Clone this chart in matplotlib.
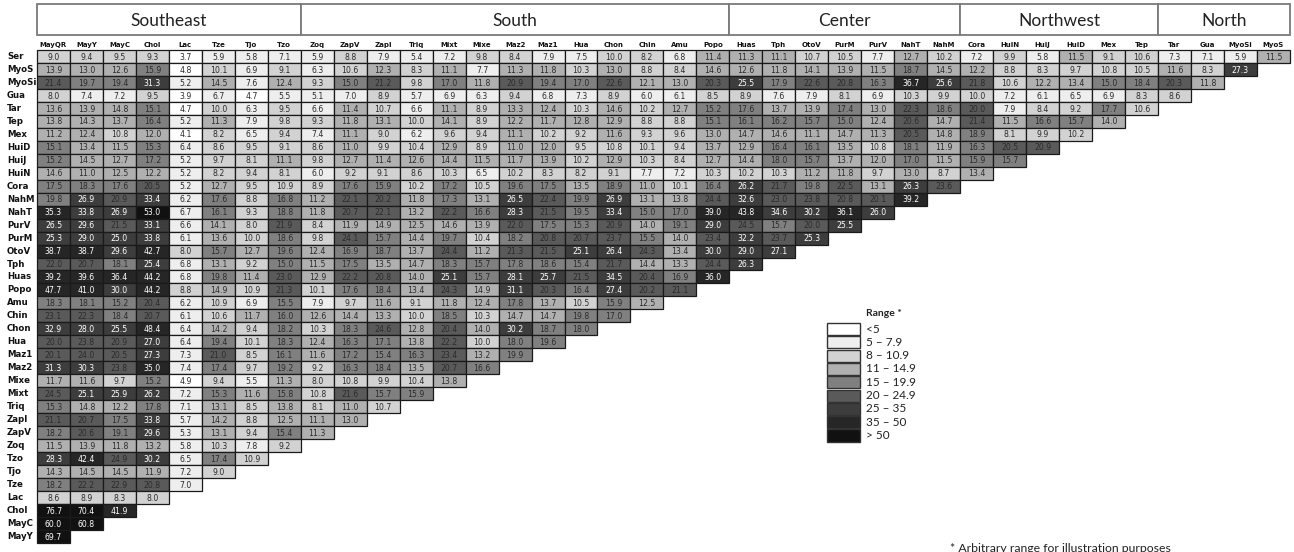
import matplotlib.pyplot as plt
from matplotlib.patches import Rectangle
import numpy as np

col_labels = ["MayQR", "MayY", "MayC", "Chol", "Lac", "Tze", "Tjo", "Tzo", "Zoq", "ZapV",
              "ZapI", "Triq", "Mixt", "Mixe", "Maz2", "Maz1", "Hua", "Chon", "Chin", "Amu",
              "Popo", "Huas", "Tph", "OtoV", "PurM", "PurV", "NahT", "NahM", "Cora", "HuiN",
              "HuiJ", "HuiD", "Mex", "Tep", "Tar", "Gua", "MyoSi", "MyoS"]
row_labels = ["Ser", "MyoS", "MyoSi", "Gua", "Tar", "Tep", "Mex", "HuiD", "HuiJ", "HuiN",
              "Cora", "NahM", "NahT", "PurV", "PurM", "OtoV", "Tph", "Huas", "Popo", "Amu",
              "Chin", "Chon", "Hua", "Maz1", "Maz2", "Mixe", "Mixt", "Triq", "ZapI", "ZapV",
              "Zoq", "Tzo", "Tjo", "Tze", "Lac", "Chol", "MayC", "MayY"]

values = [
    [9.0, 9.4, 9.5, 9.3, 3.7, 5.9, 5.8, 7.1, 5.9, 8.8, 7.9, 5.4, 7.2, 9.8, 8.4, 7.9, 7.5, 10.0, 8.2,
     6.8, 11.4, 11.3, 11.1, 10.7, 10.5, 7.7, 12.7, 10.2, 7.2, 9.9, 5.8, 11.5, 9.1, 10.6, 7.3, 7.1, 5.9, 11.5],
    [13.9, 13.0, 12.6, 15.9, 4.8, 10.1, 6.9, 9.1, 6.3, 10.6, 12.3, 8.3, 11.1, 7.7, 11.3, 11.8, 10.3, 13.0,
     8.8, 8.4, 14.6, 12.6, 11.8, 14.1, 13.9, 11.5, 18.7, 14.5, 12.2, 8.8, 8.3, 9.7, 10.8, 10.5, 11.6, 8.3, 27.3],
    [21.4, 19.7, 19.4, 31.3, 5.2, 14.5, 7.6, 12.4, 9.3, 15.0, 21.2, 9.8, 17.0, 11.8, 20.9, 19.4, 17.0, 22.6,
     12.1, 13.0, 20.3, 25.5, 17.9, 22.6, 20.8, 16.3, 36.7, 25.6, 21.8, 10.6, 12.2, 13.4, 15.0, 18.4, 20.3, 11.8],
    [8.0, 7.4, 7.2, 9.5, 3.9, 6.7, 4.7, 5.5, 5.1, 7.0, 8.9, 5.7, 6.9, 6.3, 9.4, 6.8, 7.3, 8.9, 6.0,
     6.1, 8.5, 8.9, 7.6, 7.9, 8.1, 6.9, 10.3, 9.9, 10.0, 7.2, 6.1, 6.5, 6.9, 8.3, 8.6],
    [13.6, 13.9, 14.8, 15.1, 4.7, 10.0, 6.3, 9.5, 6.6, 11.4, 10.7, 6.6, 11.1, 8.9, 13.3, 12.4, 10.3, 14.6,
     10.2, 12.7, 15.2, 17.6, 13.7, 13.9, 17.4, 13.0, 22.3, 18.6, 20.0, 7.9, 8.4, 9.2, 17.7, 10.6],
    [13.8, 14.3, 13.7, 16.4, 5.2, 11.3, 7.9, 9.8, 9.3, 11.8, 13.1, 10.0, 14.1, 8.9, 12.2, 11.7, 12.8, 12.9,
     8.8, 8.8, 15.1, 16.1, 16.2, 15.7, 15.0, 12.4, 20.6, 14.7, 21.4, 11.5, 16.6, 15.7, 14.0],
    [11.2, 12.4, 10.8, 12.0, 4.1, 8.2, 6.5, 9.4, 7.4, 11.1, 9.0, 6.2, 9.6, 9.4, 11.1, 10.2, 9.2, 11.6,
     9.3, 9.6, 13.0, 14.7, 14.6, 11.1, 14.7, 11.3, 20.5, 14.8, 18.9, 8.1, 9.9, 10.2],
    [15.1, 13.4, 11.5, 15.3, 6.4, 8.6, 9.5, 9.1, 8.6, 11.0, 9.9, 10.4, 12.9, 8.9, 11.0, 12.0, 9.5, 10.8,
     10.1, 9.4, 13.7, 12.9, 16.4, 16.1, 13.5, 10.8, 18.1, 11.9, 16.3, 20.5, 20.9],
    [15.2, 14.5, 12.7, 17.2, 5.2, 9.7, 8.1, 11.1, 9.8, 12.7, 11.4, 12.6, 14.4, 11.5, 11.7, 13.9, 10.2, 12.9,
     10.3, 8.4, 12.7, 14.4, 18.0, 15.7, 13.7, 12.0, 17.0, 11.5, 15.9, 15.7],
    [14.6, 11.0, 12.5, 12.2, 5.2, 8.2, 9.4, 8.1, 6.0, 9.2, 9.1, 8.6, 10.3, 6.5, 10.2, 8.3, 8.2, 9.1,
     7.7, 7.2, 10.3, 10.2, 10.3, 11.2, 11.8, 9.7, 13.0, 8.7, 13.4],
    [17.5, 18.3, 17.6, 20.5, 5.2, 12.7, 9.5, 10.9, 8.9, 17.6, 15.9, 10.2, 17.2, 10.5, 19.6, 17.5, 13.5, 18.9,
     11.0, 10.1, 16.4, 26.2, 21.7, 19.8, 22.5, 13.1, 26.3, 23.6],
    [19.8, 26.9, 20.9, 33.4, 6.2, 17.6, 8.8, 16.8, 11.2, 22.1, 20.2, 11.8, 17.3, 13.1, 26.5, 22.4, 19.9, 26.9,
     13.1, 13.8, 24.4, 32.6, 23.0, 23.8, 20.8, 20.1, 39.2],
    [35.3, 33.8, 26.9, 53.0, 6.7, 16.1, 9.3, 18.8, 11.8, 20.7, 22.1, 13.2, 22.2, 16.6, 28.3, 21.5, 19.5, 33.4,
     15.0, 17.0, 39.0, 43.8, 34.6, 30.2, 36.1, 26.0],
    [26.5, 29.6, 21.5, 33.1, 6.6, 14.1, 8.0, 21.9, 8.4, 11.9, 14.9, 12.5, 14.6, 13.9, 22.0, 17.5, 15.3, 20.9,
     14.0, 19.1, 29.0, 24.5, 15.7, 20.0, 25.5],
    [25.3, 29.0, 25.0, 33.8, 6.1, 13.6, 10.0, 18.6, 9.8, 24.1, 15.7, 14.4, 19.7, 10.4, 18.2, 20.8, 20.7, 23.7,
     15.5, 14.0, 23.4, 32.2, 23.7, 25.3],
    [38.7, 38.7, 29.6, 42.7, 8.0, 15.7, 12.7, 19.6, 12.4, 16.9, 18.7, 13.7, 24.4, 11.2, 21.3, 21.5, 25.1, 26.4,
     24.3, 13.4, 30.0, 29.0, 27.1],
    [22.0, 20.7, 18.1, 25.4, 6.8, 13.1, 9.2, 15.0, 11.5, 17.5, 13.5, 14.7, 18.3, 15.7, 17.8, 18.6, 15.4, 21.7,
     14.4, 13.3, 24.4, 26.3],
    [39.2, 39.6, 36.4, 44.2, 6.8, 19.8, 11.4, 23.0, 12.9, 22.2, 20.8, 14.0, 25.1, 15.7, 28.1, 25.7, 21.5, 34.5,
     20.4, 16.9, 36.0],
    [47.7, 41.0, 30.0, 44.2, 8.8, 14.9, 10.9, 21.3, 10.1, 17.6, 18.4, 13.4, 24.3, 14.9, 31.1, 20.3, 16.4, 27.4,
     20.2, 21.1],
    [18.3, 18.1, 15.2, 20.4, 6.2, 10.9, 6.9, 15.5, 7.9, 9.7, 11.6, 9.1, 11.8, 12.4, 17.8, 13.7, 10.5, 15.9, 12.5],
    [23.1, 22.3, 18.4, 20.7, 6.1, 10.6, 11.7, 16.0, 12.6, 14.4, 13.3, 10.0, 18.5, 10.3, 14.7, 14.7, 19.8, 17.0],
    [32.9, 28.0, 25.5, 48.4, 6.4, 14.2, 9.4, 18.2, 10.3, 18.3, 24.6, 12.8, 20.4, 14.0, 30.2, 18.7, 18.0],
    [20.0, 23.8, 20.9, 27.0, 6.4, 19.4, 10.1, 18.3, 12.4, 16.3, 17.1, 13.8, 22.2, 10.0, 18.0, 19.6],
    [20.1, 24.0, 20.5, 27.3, 7.3, 21.0, 8.5, 16.1, 11.6, 17.2, 15.4, 16.3, 23.4, 13.2, 19.9],
    [31.3, 30.3, 23.8, 35.0, 7.4, 17.4, 9.7, 19.2, 9.2, 16.3, 18.4, 13.5, 20.7, 16.6],
    [11.7, 11.6, 9.7, 15.2, 4.9, 9.4, 5.5, 11.3, 8.0, 10.8, 9.9, 10.4, 13.8],
    [24.5, 25.1, 25.9, 26.2, 7.2, 15.3, 11.6, 15.8, 10.8, 21.6, 15.7, 15.9],
    [15.3, 14.8, 12.2, 17.8, 7.1, 13.1, 8.5, 13.8, 8.1, 11.0, 10.7],
    [21.1, 20.7, 17.5, 33.8, 5.7, 14.2, 8.8, 12.5, 11.1, 13.0],
    [18.2, 20.6, 19.1, 29.6, 5.3, 13.1, 9.4, 15.4, 11.3],
    [11.5, 13.9, 11.8, 13.2, 5.8, 10.3, 7.8, 9.2],
    [28.3, 42.4, 24.9, 30.2, 6.5, 17.4, 10.9],
    [14.3, 14.5, 14.5, 11.9, 7.2, 9.0],
    [18.2, 22.2, 22.9, 20.8, 7.0],
    [8.6, 8.9, 8.3, 8.0],
    [76.7, 70.4, 41.9],
    [60.0, 60.8],
    [69.7],
]

regions = ["Southeast", "South", "Center", "Northwest", "North"]
region_sizes = [8, 13, 7, 6, 4]

bin_edges = [5, 8, 11, 15, 20, 25, 35, 50]
bin_labels = ["<5", "5 – 7.9", "8 – 10.9", "11 – 14.9", "15 – 19.9",
              "20 – 24.9", "25 – 35", "35 – 50", "> 50"]
bin_colors = ["#ffffff", "#eeeeee", "#d2d2d2", "#b0b0b0", "#808080",
              "#5a5a5a", "#3d3d3d", "#262626", "#111111"]

# figure size in pixels, grid origin and cell size in pixels
W, H = 1294, 552
X0, CW = 37, 32.97
Y0, RH = 50, 12.97

fig = plt.figure(figsize=(W / 100, H / 100), dpi=100)
ax = fig.add_axes([0, 0, 1, 1])
ax.set_xlim(-X0 / CW, (W - X0) / CW)
ax.set_ylim((H - Y0) / RH, -Y0 / RH)
ax.axis("off")


def ux(x):
    return (x - X0) / CW


def uy(y):
    return (y - Y0) / RH


# cells
for i, row in enumerate(values):
    for j, v in enumerate(row):
        k = int(np.searchsorted(bin_edges, v, side="right"))
        ax.add_patch(Rectangle((j, i), 1, 1, facecolor=bin_colors[k],
                               edgecolor="#1a1a1a", linewidth=0.9))
        ax.text(j + 0.5, i + 0.55, f"{v:.1f}", ha="center", va="center",
                fontsize=5.6, color="white" if v >= 25 else "#2b2b2b")

for i, lab in enumerate(row_labels):
    ax.text(ux(7), i + 0.5, lab, ha="left", va="center", fontsize=6.2,
            fontweight="bold", color="#111111")

for j, lab in enumerate(col_labels):
    ax.text(j + 0.5, -0.12, lab, ha="center", va="bottom", fontsize=5,
            fontweight="bold", color="#111111")

# region header boxes
top, bot = uy(4), uy(35)
start = 0
for name, size in zip(regions, region_sizes):
    ax.add_patch(Rectangle((start, top), size, bot - top, facecolor="white",
                           edgecolor="#7a7a7a", linewidth=1.3))
    ax.text(start + size / 2, (top + bot) / 2 + 0.1, name, ha="center", va="center",
            fontsize=12.5, family="Lato", color="#222222")
    start += size

# legend
lx0, lx1, ly0, pitch = 827, 860, 323, 13.3
ax.text(ux(866), uy(314), "Range *", ha="left", va="center", fontsize=7.5,
        fontweight="bold", family="Lato", color="#222222")
for k, (lab, c) in enumerate(zip(bin_labels, bin_colors)):
    y = ly0 + k * pitch
    ax.add_patch(Rectangle((ux(lx0), uy(y)), (lx1 - lx0) / CW, (pitch - 1.2) / RH,
                           facecolor=c, edgecolor="#333333", linewidth=1.0))
    ax.text(ux(866), uy(y + pitch / 2 - 0.6), lab, ha="left", va="center",
            fontsize=8.5, family="Lato", color="#222222")

ax.text(ux(950), uy(552), "* Arbitrary range for illustration purposes", ha="left",
        va="baseline", fontsize=8.8, family="Lato", color="#222222")

fig.savefig("out.png", dpi=100)
